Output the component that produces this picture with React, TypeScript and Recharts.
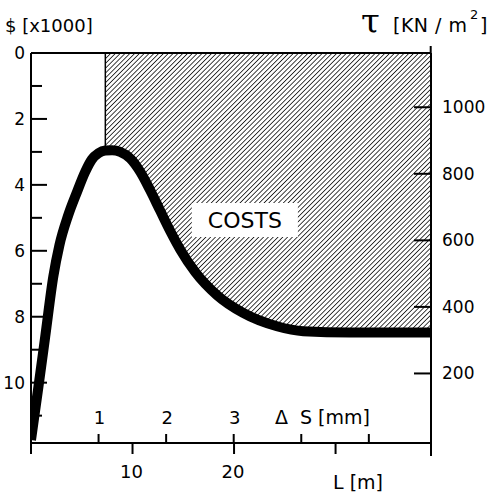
import React from 'react'
import {
    ComposedChart,
    Line,
    Area,
    XAxis,
    YAxis,
    ReferenceLine,
    ReferenceArea
} from 'recharts'

// shear displacement (mm) vs shear stress (KN/m2)
const dsMm = [0, 0.11, 0.21, 0.33, 0.42, 0.55, 0.68, 0.8, 0.9, 1.0, 1.1, 1.2, 1.32, 1.47, 1.62, 1.76, 1.91, 2.06, 2.21, 2.43, 2.75, 3.14, 3.64, 4.03, 4.72, 5.91]
const tauKn = [0, 160, 310, 491, 585, 675, 745, 805, 843, 862, 870, 871, 866, 846, 805, 752, 690, 628, 572, 505, 436, 382, 342, 327, 323, 323]

const costTicks = [0, 1, 2, 3, 4, 5, 6, 7, 8, 9, 10, 11]
const tauTicks = [200, 400, 600, 800, 1000]
const dsTicks = [1, 2, 3, 4, 5]
const dsLabelled = [1, 2, 3]
const lTicks = [0, 10, 20, 30]
const lLabelled = [10, 20]

const HATCH_FROM = 1.1
const TAU_MIN = -9
const TAU_TOP = 1163
const DS_MAX = 5.92
const L_MAX = 39.4
const M_PER_MM = L_MAX / DS_MAX
const COST_MAX = 11.83

const data = dsMm.map((d, i) => ({
    ds: d,
    tau: tauKn[i],
    hatch: d >= HATCH_FROM ? [tauKn[i], TAU_TOP] : null
}))
const tauAtHatch = tauKn[dsMm.indexOf(HATCH_FROM)]

// the L [m] scale shares the bottom axis: its ticks are placed in mm units
const lTickPos = [...lTicks, L_MAX].map((l) => l / M_PER_MM)
const xTicks = [...dsTicks, ...lTickPos]

const FONT = '"DejaVu Sans", sans-serif'

const CostTick = (props: any) => {
    const { x, y, payload } = props
    const v = payload.value
    const major = v % 2 === 0
    return (
        <g>
            <line x1={x} x2={x + (major ? 16 : 11)} y1={y} y2={y} stroke="#000" strokeWidth={2} />
            {major && (
                <text x={x - 6} y={y + 6} textAnchor="end" fontSize={17} fontFamily={FONT} fill="#000">
                    {v}
                </text>
            )}
        </g>
    )
}

const TauTick = (props: any) => {
    const { x, y, payload } = props
    return (
        <g>
            <line x1={x - 17} x2={x} y1={y} y2={y} stroke="#000" strokeWidth={2} />
            <text x={x + 11} y={y + 6} textAnchor="start" fontSize={17} fontFamily={FONT} fill="#000">
                {payload.value}
            </text>
        </g>
    )
}

const BottomTick = (props: any) => {
    const { x, y, payload, index } = props
    const v = payload.value
    if (index < dsTicks.length) {
        return (
            <g>
                <line x1={x} x2={x} y1={y} y2={y - 9} stroke="#000" strokeWidth={2} />
                {dsLabelled.includes(v) && (
                    <text x={x + 1} y={y - 19.5} textAnchor="middle" fontSize={18} fontFamily={FONT} fill="#000">
                        {v}
                    </text>
                )}
            </g>
        )
    }
    const l = Math.round(v * M_PER_MM * 10) / 10
    const edge = l >= L_MAX
    return (
        <g>
            <line x1={x} x2={x} y1={y} y2={y + (edge ? 13 : 11)} stroke="#000" strokeWidth={2} />
            {lLabelled.includes(l) && (
                <text x={x - 1} y={y + 35} textAnchor="middle" fontSize={18} fontFamily={FONT} fill="#000">
                    {l}
                </text>
            )}
        </g>
    )
}

export default function App() {
    return (
        <div style={{ position: 'absolute', left: 0, top: 0, width: 488, height: 492, background: '#fff' }}>
            <ComposedChart
                width={488}
                height={492}
                data={data}
                margin={{ top: 53, right: 0, bottom: 0, left: 0 }}
            >
                <defs>
                    <pattern id="hatch" patternUnits="userSpaceOnUse" width={3.4} height={3.4} patternTransform="rotate(45)">
                        <line x1={0} y1={0} x2={0} y2={3.4} stroke="#000" strokeWidth={1.5} />
                    </pattern>
                </defs>
                <XAxis
                    dataKey="ds"
                    type="number"
                    domain={[0, DS_MAX]}
                    allowDataOverflow
                    ticks={xTicks}
                    interval={0}
                    height={49}
                    tickSize={0}
                    tickMargin={0}
                    tickLine={false}
                    axisLine={{ stroke: '#000', strokeWidth: 2 }}
                    tick={<BottomTick />}
                />
                <YAxis
                    yAxisId="cost"
                    orientation="left"
                    type="number"
                    domain={[0, COST_MAX]}
                    reversed
                    allowDataOverflow
                    ticks={costTicks}
                    interval={0}
                    width={31}
                    tickSize={0}
                    tickMargin={0}
                    tickLine={false}
                    axisLine={{ stroke: '#000', strokeWidth: 2 }}
                    tick={<CostTick />}
                />
                <YAxis
                    yAxisId="tau"
                    orientation="right"
                    type="number"
                    domain={[TAU_MIN, TAU_TOP]}
                    allowDataOverflow
                    ticks={tauTicks}
                    interval={0}
                    width={57}
                    tickSize={0}
                    tickMargin={0}
                    tickLine={false}
                    axisLine={{ stroke: '#000', strokeWidth: 2 }}
                    tick={<TauTick />}
                />
                <Area
                    yAxisId="tau"
                    type="monotone"
                    dataKey="hatch"
                    stroke="none"
                    fill="url(#hatch)"
                    fillOpacity={1}
                    isAnimationActive={false}
                    activeDot={false}
                />
                <ReferenceLine
                    yAxisId="tau"
                    segment={[{ x: HATCH_FROM, y: tauAtHatch }, { x: HATCH_FROM, y: TAU_TOP }]}
                    stroke="#000"
                    strokeWidth={1.5}
                />
                <ReferenceLine yAxisId="tau" y={TAU_TOP} stroke="#000" strokeWidth={2} />
                <ReferenceArea
                    yAxisId="tau"
                    x1={2.38}
                    x2={3.95}
                    y1={610}
                    y2={712}
                    fill="#fff"
                    fillOpacity={1}
                    stroke="none"
                    label={{ value: 'COSTS', position: 'center', fontSize: 22, fontFamily: FONT, fill: '#000' }}
                />
                <Line
                    yAxisId="tau"
                    type="monotone"
                    dataKey="tau"
                    stroke="#000"
                    strokeWidth={10}
                    dot={false}
                    activeDot={false}
                    isAnimationActive={false}
                />
            </ComposedChart>
            <svg
                width={488}
                height={492}
                style={{ position: 'absolute', left: 0, top: 0, pointerEvents: 'none' }}
            >
                <line x1={430.7} x2={430.7} y1={46} y2={54} stroke="#000" strokeWidth={2} />
                <text x={5} y={32} fontSize={18} fontFamily={FONT} fill="#000">$ [x1000]</text>
                <text x={361} y={33} fontSize={34} fontFamily='"DejaVu Serif", serif' fill="#000">τ</text>
                <text x={393} y={32} fontSize={19} fontFamily={FONT} fill="#000" letterSpacing={0.5}>[KN / m</text>
                <text x={470} y={19} fontSize={13} fontFamily={FONT} fill="#000">2</text>
                <text x={480} y={32} fontSize={19} fontFamily={FONT} fill="#000">]</text>
                <text x={275} y={423.5} fontSize={19} fontFamily={FONT} fill="#000">Δ</text>
                <text x={300} y={423.5} fontSize={19} fontFamily={FONT} fill="#000">S [mm]</text>
                <text x={333} y={489} fontSize={19} fontFamily={FONT} fill="#000">L [m]</text>
            </svg>
        </div>
    )
}
